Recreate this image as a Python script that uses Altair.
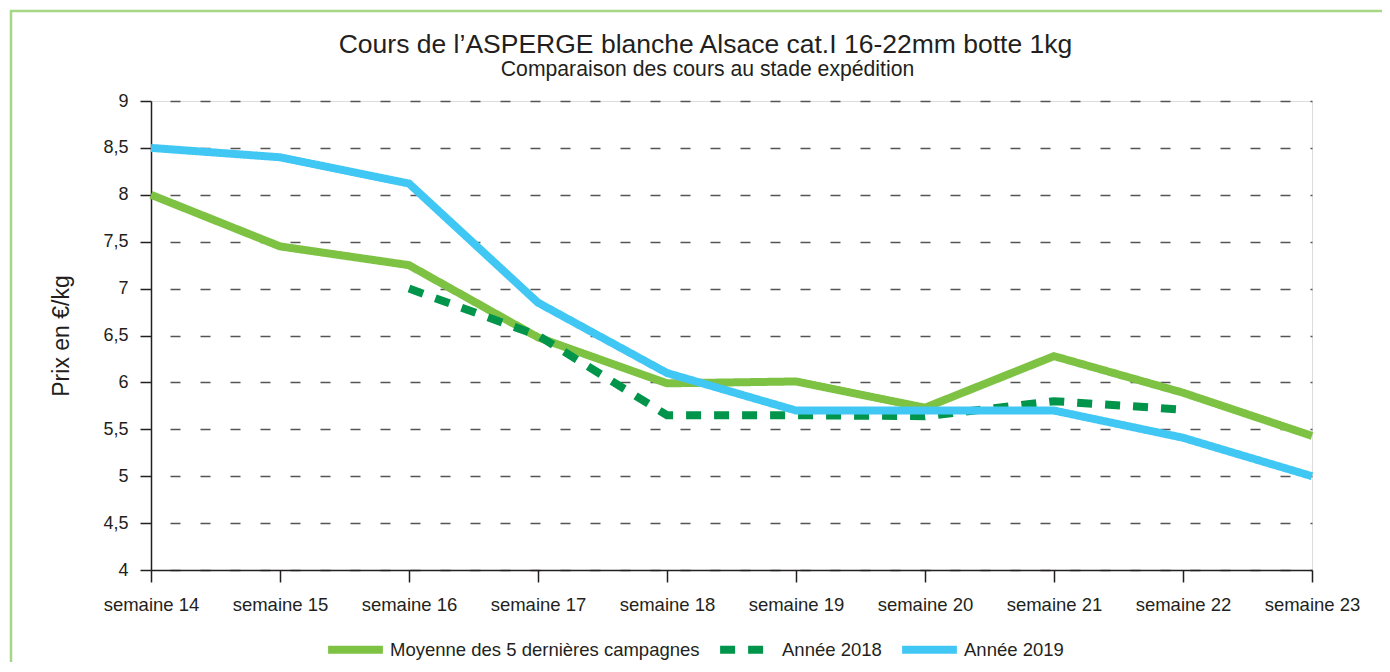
import altair as alt
import pandas as pd

weeks = ["semaine 14", "semaine 15", "semaine 16", "semaine 17", "semaine 18",
         "semaine 19", "semaine 20", "semaine 21", "semaine 22", "semaine 23"]
moyenne = [8.0, 7.45, 7.25, 6.48, 5.99, 6.01, 5.73, 6.28, 5.89, 5.43]
annee2018 = [None, None, 7.0, 6.5, 5.65, 5.65, 5.64, 5.80, 5.71, None]
annee2019 = [8.5, 8.4, 8.12, 6.85, 6.1, 5.7, 5.7, 5.7, 5.41, 5.0]

series_names = ["Moyenne des 5 dernières campagnes", "Année 2018", "Année 2019"]
series_colors = ["#7dc242", "#00954a", "#41c7f4"]
series_dash = [[1, 0], [15, 13], [1, 0]]

title_text = "Cours de l’ASPERGE blanche Alsace cat.I 16-22mm botte 1kg"
subtitle_text = "Comparaison des cours au stade expédition"

rows = []
for name, vals in zip(series_names, [moyenne, annee2018, annee2019]):
    for w, v in zip(weeks, vals):
        if v is not None:
            rows.append({"semaine": w, "prix": v, "serie": name})
df = pd.DataFrame(rows)

FONT = "Liberation Sans, Arial, sans-serif"
TXT = "#231f20"
W, H = 1161, 469

legend_opts = dict(title=None, orient="none", direction="horizontal",
                   legendX=173, legendY=517, symbolType="stroke",
                   symbolStrokeWidth=8, symbolSize=3000,
                   labelFontSize=18.5, labelFont=FONT, labelColor=TXT,
                   labelOffset=3, columnPadding=4, padding=0, labelLimit=500)

color = alt.Color("serie:N", scale=alt.Scale(domain=series_names, range=series_colors),
                  legend=alt.Legend(**legend_opts))
dash = alt.StrokeDash("serie:N", scale=alt.Scale(domain=series_names, range=series_dash),
                      legend=alt.Legend(**legend_opts))

x = alt.X("semaine:N", sort=weeks, scale=alt.Scale(type="point", padding=0),
          axis=alt.Axis(title=None, labelAngle=0, labelFontSize=18.5, labelFont=FONT,
                        labelColor=TXT, tickSize=12, tickColor="#231f20", domainColor="#231f20",
                        domainWidth=1.5, tickWidth=1.5, labelPadding=13, grid=False))
y = alt.Y("prix:Q", scale=alt.Scale(domain=[4, 9], nice=False, zero=False),
          axis=alt.Axis(title="Prix en €/kg", titleFontSize=23, titleFont=FONT,
                        titleFontWeight="normal", titleColor=TXT, titlePadding=29,
                        values=[4, 4.5, 5, 5.5, 6, 6.5, 7, 7.5, 8, 8.5, 9],
                        labelExpr="replace(toString(datum.value), '.', ',')",
                        labelFontSize=18, labelFont=FONT, labelColor=TXT,
                        tickSize=11, tickColor="#231f20", tickWidth=1.5,
                        domainColor="#231f20", domainWidth=1.5, labelPadding=12,
                        grid=True, gridDash=[10, 20], gridColor="#555555", gridWidth=1.5,
                        gridDashOffset=-19))

base = alt.Chart(df)
layers = []
for name in series_names:
    layers.append(
        base.transform_filter(alt.datum.serie == name)
        .mark_line(strokeWidth=8, strokeCap="butt", strokeJoin="miter")
        .encode(x=x, y=y, color=color, strokeDash=dash)
    )

one = alt.Data(values=[{}])
border = alt.Chart(one).mark_rect(
    fill=None, stroke="#a6d785", strokeWidth=2.5, clip=False
).encode(x=alt.value(-140), x2=alt.value(1300), y=alt.value(-90), y2=alt.value(650))

title_mark = alt.Chart(one).mark_text(
    text=title_text, font=FONT, fontSize=26.5, color=TXT, align="center",
    baseline="alphabetic", clip=False
).encode(x=alt.value(554.5), y=alt.value(-48.5))

subtitle_mark = alt.Chart(one).mark_text(
    text=subtitle_text, font=FONT, fontSize=21.2, color=TXT, align="center",
    baseline="alphabetic", clip=False
).encode(x=alt.value(556.5), y=alt.value(-25))

chart = alt.layer(border, *layers, title_mark, subtitle_mark).properties(
    width=W, height=H,
    autosize=alt.AutoSizeParams(type="none"),
    padding={"left": 143, "top": 93, "right": 70, "bottom": 92},
).configure_view(stroke=None).configure(background="white")

chart.save("out.html", embed_options={"renderer": "svg", "actions": False})
